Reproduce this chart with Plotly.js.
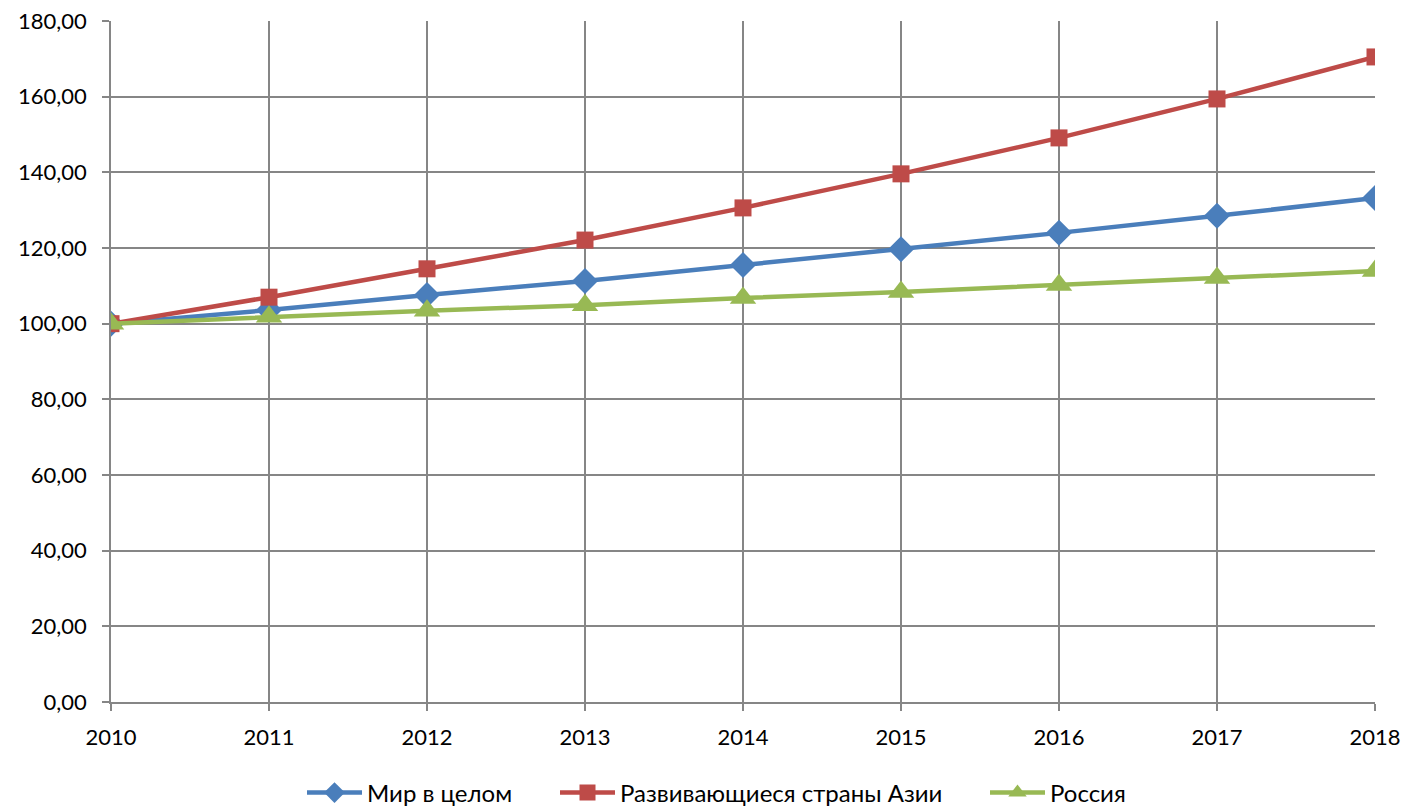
<!DOCTYPE html>
<html><head><meta charset="utf-8">
<script src="https://cdn.plot.ly/plotly-3.0.1.min.js"></script>
<style>html,body{margin:0;padding:0;background:#fff}#c{width:1407px;height:807px}</style>
</head><body><div id="c"></div>
<script>
const years = [2010, 2011, 2012, 2013, 2014, 2015, 2016, 2017, 2018];
const worldValues = [100.0, 103.6, 107.6, 111.3, 115.5, 119.7, 124.0, 128.5, 133.2];
const asiaValues = [100.0, 107.0, 114.5, 122.1, 130.6, 139.6, 149.1, 159.4, 170.5];
const russiaValues = [100.0, 101.8, 103.4, 104.9, 106.8, 108.4, 110.2, 112.1, 113.9];
const seriesNames = ["Мир в целом", "Развивающиеся страны Азии", "Россия"];

const traces = [
  {x: years, y: worldValues, name: seriesNames[0], mode: "lines+markers", legend: "legend",
   line: {color: "#4A7EBB", width: 4.5}, marker: {symbol: "diamond", size: 20, color: "#4A7EBB"}},
  {x: years, y: asiaValues, name: seriesNames[1], mode: "lines+markers", legend: "legend2",
   line: {color: "#BE4B48", width: 4.5}, marker: {symbol: "square", size: 17, color: "#BE4B48"}},
  {x: years, y: russiaValues, name: seriesNames[2], mode: "lines+markers", legend: "legend3",
   line: {color: "#98B954", width: 4.5}, marker: {symbol: "triangle-up", size: 23, color: "#98B954"}}
];
function leg(px) {
  return {xref: "paper", x: (px - 111) / 1264, xanchor: "left",
          yref: "container", y: 1 - 793 / 807, yanchor: "middle",
          font: {size: 24}, itemwidth: 55, bgcolor: "rgba(0,0,0,0)"};
}
const layout = {
  width: 1407, height: 807,
  margin: {l: 111, r: 32, t: 21, b: 105},
  paper_bgcolor: "#fff", plot_bgcolor: "#fff",
  separators: ", ",
  font: {family: "Lato, 'Open Sans', sans-serif", size: 22, color: "#000"},
  showlegend: true,
  legend: leg(302), legend2: leg(555), legend3: leg(985),
  xaxis: {range: [2010, 2018], dtick: 1, tick0: 2010, showgrid: true, gridcolor: "#868686", gridwidth: 1.5,
          zeroline: false, showline: true, linecolor: "#868686", linewidth: 1.5,
          ticks: "outside", ticklen: 7, tickcolor: "#868686", tickwidth: 1.5, ticklabelstandoff: 8,
          tickfont: {size: 22}},
  yaxis: {range: [0, 180], dtick: 20, tickformat: ".2f", showgrid: true, gridcolor: "#868686", gridwidth: 1.5,
          zeroline: false, showline: true, linecolor: "#868686", linewidth: 1.5,
          ticks: "outside", ticklen: 7, tickcolor: "#868686", tickwidth: 1.5, ticklabelstandoff: 11,
          tickfont: {size: 22}}
};
Plotly.newPlot("c", traces, layout, {displayModeBar: false});
</script></body></html>
